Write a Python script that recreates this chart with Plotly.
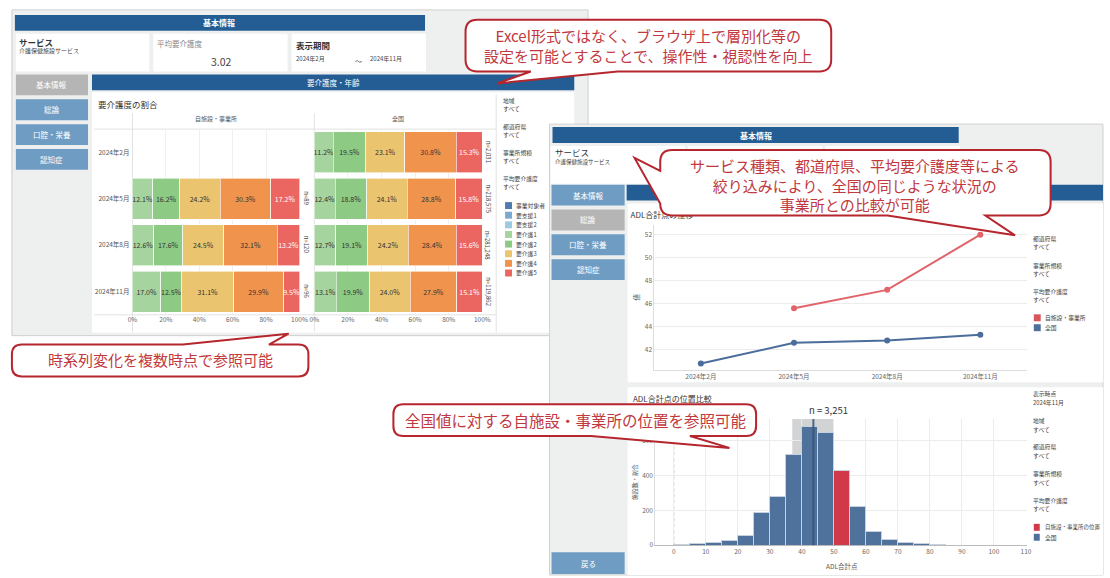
import plotly.graph_objects as go

W, H = 1110, 578
FONT = "Noto Sans CJK JP, Noto Sans, sans-serif"

# ---------------- data ----------------
months = ["2024年2月", "2024年5月", "2024年8月", "2024年11月"]
legend_levels = ["事業対象者", "要支援1", "要支援2", "要介護1", "要介護2", "要介護3", "要介護4", "要介護5"]
legend_colors = ["#4f7cac", "#7aaad2", "#9ecae1", "#a6d49e", "#8dca84", "#ebc46f", "#f0934d", "#ec6661"]
care_levels = ["要介護1", "要介護2", "要介護3", "要介護4", "要介護5"]

own_care1 = [None, 12.1, 12.6, 17.0]
own_care2 = [None, 16.2, 17.6, 12.5]
own_care3 = [None, 24.2, 24.5, 31.1]
own_care4 = [None, 30.3, 32.1, 29.9]
own_care5 = [None, 17.2, 13.2, 9.5]
nat_care1 = [11.2, 12.4, 12.7, 13.1]
nat_care2 = [19.5, 18.8, 19.1, 19.9]
nat_care3 = [23.1, 24.1, 24.2, 24.0]
nat_care4 = [30.8, 28.8, 28.4, 27.9]
nat_care5 = [15.3, 15.8, 15.6, 15.1]
own_n = [None, 89, 120, 96]
nat_n = [2031, 218575, 281248, 119862]
share_ticks = [0, 20, 40, 60, 80, 100]

adl_own = [None, 45.6, 47.2, 52.0]
adl_nat = [40.8, 42.6, 42.8, 43.3]
adl_ticks = [42, 44, 46, 48, 50, 52]

bin_starts = [0, 5, 10, 15, 20, 25, 30, 35, 40, 45, 50, 55, 60, 65, 70, 75, 80]
bin_counts = [6, 10, 15, 27, 55, 187, 282, 524, 686, 650, 429, 221, 80, 30, 15, 8, 2]
bin_width = 5
own_bin_start = 50
adl_q1, adl_median, adl_q3 = 37, 43.6, 50
n_total = 3251
hist_xticks = [0, 10, 20, 30, 40, 50, 60, 70, 80, 90, 100, 110]
hist_yticks = [0, 200, 400, 600]

# ---------------- helpers ----------------
shapes, annotations = [], []


def px(x):
    return x / W


def py(y):
    return 1 - y / H


def R(x0, y0, x1, y1, fill, line=None, layer="below"):
    shapes.append(dict(type="rect", xref="paper", yref="paper", x0=px(x0), x1=px(x1),
                       y0=py(y1), y1=py(y0), fillcolor=fill, layer=layer,
                       line=dict(width=1 if line else 0, color=line or "rgba(0,0,0,0)")))


def L(x0, y0, x1, y1, color="#e2e2e2", width=1, layer="below"):
    shapes.append(dict(type="line", xref="paper", yref="paper", x0=px(x0), x1=px(x1),
                       y0=py(y0), y1=py(y1), line=dict(color=color, width=width), layer=layer))


def T(x, y, text, size=7, color="#555", xa="left", ya="middle", bold=False, angle=0):
    if bold:
        text = "<b>" + text + "</b>"
    annotations.append(dict(x=px(x), y=py(y), xref="paper", yref="paper", text=text,
                            showarrow=False, xanchor=xa, yanchor=ya, textangle=angle,
                            font=dict(size=size, color=color, family=FONT)))


def P(x, y):
    return f"{x / W:.5f},{1 - y / H:.5f}"


def callout(x0, y0, x1, y1, r, tails):
    s = f"M{P(x0 + r, y0)}"
    if "top" in tails:
        a, b, tx, ty = tails["top"]
        s += f" L{P(a, y0)} L{P(tx, ty)} L{P(b, y0)}"
    s += f" L{P(x1 - r, y0)} Q{P(x1, y0)} {P(x1, y0 + r)}"
    s += f" L{P(x1, y1 - r)} Q{P(x1, y1)} {P(x1 - r, y1)}"
    if "bottom" in tails:
        a, b, tx, ty = tails["bottom"]
        s += f" L{P(a, y1)} L{P(tx, ty)} L{P(b, y1)}"
    s += f" L{P(x0 + r, y1)} Q{P(x0, y1)} {P(x0, y1 - r)}"
    if "left" in tails:
        a, b, tx, ty = tails["left"]
        s += f" L{P(x0, a)} L{P(tx, ty)} L{P(x0, b)}"
    s += f" L{P(x0, y0 + r)} Q{P(x0, y0)} {P(x0 + r, y0)} Z"
    shapes.append(dict(type="path", xref="paper", yref="paper", path=s, fillcolor="white",
                       line=dict(color="#b5262e", width=2), layer="above"))


DARK = "#235d93"
NAV = "#6f9cc3"
SEL = "#b5b5b5"
BG = "#eeefef"
FS = 5.8  # filter text size

# ---------------- dashboard 1 ----------------
R(7, 10, 590, 338, BG, "#cfcfcf")
R(10, 15, 425, 31, DARK)
T(217, 23, "基本情報", 8, "white", "center", bold=True)
R(11, 34, 146, 72, "white")
R(150, 34, 286, 72, "white")
R(290, 34, 426, 72, "white")
T(12, 42, "サービス", 8.5, "#333", bold=True)
T(12, 51, "介護保健施設サービス", 6, "#444")
T(152, 44, "平均要介護度", 7.5, "#888")
T(219, 62, "3.02", 10.5, "#444", "center")
T(292, 45, "表示期間", 8.5, "#333", bold=True)
T(292, 59, "2024年2月", 6, "#444")
T(358, 61, "～", 7, "#444", "center")
T(367, 59, "2024年11月", 6, "#444")

for i, (lab, fill) in enumerate([("基本情報", SEL), ("総論", NAV), ("口腔・栄養", NAV), ("認知症", NAV)]):
    y0 = 75 + i * 25
    R(11, y0, 84, y0 + 21, fill)
    T(47.5, y0 + 10.5, lab, 7.5, "white", "center")

R(88, 75, 576, 91, DARK)
T(332, 83, "要介護度・年齢", 7.5, "white", "center")
R(88, 93, 576, 335, "white")
T(92, 105, "要介護度の割合", 8.5, "#333")
T(214, 119, "自施設・事業所", 6, "#555", "center")
T(398, 119, "全国", 6, "#555", "center")
L(90, 130, 497, 130)
L(90, 317, 497, 317)
L(129, 114, 129, 334)
L(313, 114, 313, 334)
L(497, 95, 497, 335)

fy = [(101, 109, "地域"), (127, 135, "都道府県"), (154, 162, "事業所規模"), (180, 188, "平均要介護度")]
for a, b, lab in fy:
    T(502, a, lab, FS, "#444")
    T(502, b, "すべて", FS, "#444")
for i, (lab, col) in enumerate(zip(legend_levels, legend_colors)):
    yc = 207 + i * 9.7
    R(506, yc - 3.5, 513, yc + 3.5, col)
    T(515, yc, lab, FS, "#444")

# ---------------- dashboard 2 ----------------
R(551, 125, 1111, 579, BG, "#cfcfcf")
R(554, 128, 965, 144, DARK)
T(760, 136, "基本情報", 8, "white", "center", bold=True)
R(552, 147, 688, 185, "white")
R(691, 147, 827, 185, "white")
R(830, 147, 966, 185, "white")
T(554, 153, "サービス", 8.5, "#333")
T(554, 163, "介護保健施設サービス", 5.5, "#444")

for i, (lab, fill) in enumerate([("基本情報", NAV), ("総論", SEL), ("口腔・栄養", NAV), ("認知症", NAV)]):
    y0 = 186 + i * 25
    R(553, y0, 627, y0 + 21, fill)
    T(590, y0 + 10.5, lab, 7.5, "white", "center")
R(553, 556, 627, 578, NAV)
T(590, 567, "戻る", 7.5, "white", "center")

R(629, 186, 1111, 202, DARK)
R(630, 205, 1111, 385, "white")
R(630, 390, 1111, 579, "white")

T(638, 299, "値", 6.5, "#555", "center", angle=-90)
for a, b, lab in [(240, 248, "都道府県"), (267, 275, "事業所規模"), (294, 302, "平均要介護度")]:
    T(1038, a, lab, FS, "#444")
    T(1038, b, "すべて", FS, "#444")
R(1041, 316.5, 1048, 323.5, "#d9565c")
T(1050, 320, "自施設・事業所", FS, "#444")
R(1041, 326.5, 1048, 333.5, "#4e6f9b")
T(1050, 330, "全国", FS, "#444")

T(633, 401, "ADL合計点の位置比較", 8, "#333")
T(833, 413, f"n = {n_total:,}", 9.5, "#333", "center")
T(847, 570, "ADL合計点", 6.5, "#555", "center")
T(637, 486, "施設数・割合", 6, "#555", "center", angle=-90)
for a, b, lab, val in [(396, 405, "表示時点", "2024年11月"), (423, 432, "地域", "すべて"),
                       (450, 459, "都道府県", "すべて"), (477, 486, "事業所規模", "すべて"),
                       (504, 512, "平均要介護度", "すべて")]:
    T(1038, a, lab, FS, "#444")
    T(1038, b, val, FS, "#444")
R(1041, 527.5, 1047, 534.5, "#d13848")
T(1050, 531, "自施設・事業所の位置", 5.5, "#444")
R(1041, 537.5, 1047, 544.5, "#4e729c")
T(1050, 541, "全国", FS, "#444")

# ---------------- traces ----------------
fig = go.Figure()
own_series = [own_care1, own_care2, own_care3, own_care4, own_care5]
nat_series = [nat_care1, nat_care2, nat_care3, nat_care4, nat_care5]
bar_colors = legend_colors[3:]
txt_colors = ["#333", "#333", "#333", "#333", "#ffffff"]
for i, lvl in enumerate(care_levels):
    for vals, xa in ((own_series[i], "x"), (nat_series[i], "x2")):
        fig.add_trace(go.Bar(
            y=months, x=vals, orientation="h", xaxis=xa, yaxis="y", name=lvl,
            marker=dict(color=bar_colors[i], line=dict(width=0.6, color="white")),
            text=[("" if v is None else f"{v:.1f}%") for v in vals],
            textposition="inside", insidetextanchor="middle", textangle=0,
            constraintext="none",
            textfont=dict(size=7, color=txt_colors[i], family=FONT),
            hoverinfo="skip", showlegend=False))

for m, n in zip(months, own_n):
    if n is not None:
        annotations.append(dict(x=px(305), y=m, xref="paper", yref="y", text=f"n={n:,}",
                                showarrow=False, textangle=90, xanchor="center", yanchor="middle",
                                font=dict(size=6, color="#444", family=FONT)))
for m, n in zip(months, nat_n):
    annotations.append(dict(x=px(489), y=m, xref="paper", yref="y", text=f"n={n:,}",
                            showarrow=False, textangle=90, xanchor="center", yanchor="middle",
                            font=dict(size=6, color="#444", family=FONT)))

fig.add_trace(go.Scatter(x=months, y=adl_own, xaxis="x3", yaxis="y3", mode="lines+markers",
                         line=dict(color="#e0646a", width=2), marker=dict(size=6, color="#e0646a"),
                         hoverinfo="skip", showlegend=False))
fig.add_trace(go.Scatter(x=months, y=adl_nat, xaxis="x3", yaxis="y3", mode="lines+markers",
                         line=dict(color="#4a6d9c", width=2), marker=dict(size=6, color="#4a6d9c"),
                         hoverinfo="skip", showlegend=False))

fig.add_trace(go.Bar(x=bin_starts, y=bin_counts, width=bin_width, offset=0, xaxis="x4", yaxis="y4",
                     marker=dict(color=["#d13848" if b == own_bin_start else "#4e729c" for b in bin_starts],
                                 line=dict(color="#c7d1de", width=1)),
                     hoverinfo="skip", showlegend=False))

# titles that the callout must cover -> drawn as trace text on a full-page overlay
fig.add_trace(go.Scatter(x=[633, 1038], y=[217, 214], text=["ADL合計点の推移", "地域"], mode="text",
                         textposition="middle right", xaxis="x5", yaxis="y5",
                         textfont=dict(size=[8, FS], color=["#333", "#444"], family=FONT),
                         hoverinfo="skip", showlegend=False))

# histogram decorations
shapes.append(dict(type="rect", xref="x4", yref="paper", x0=adl_q1, x1=adl_q3, y0=py(549), y1=py(422),
                   fillcolor="#d2d3d5", line=dict(width=0), layer="between"))
shapes.append(dict(type="line", xref="x4", yref="paper", x0=0, x1=0, y0=py(549), y1=py(422),
                   line=dict(color="#bbbbbb", width=1, dash="dot"), layer="between"))
shapes.append(dict(type="line", xref="x4", yref="paper", x0=adl_median, x1=adl_median, y0=py(549), y1=py(422),
                   line=dict(color="#3a5277", width=2), opacity=0.85, layer="above"))

# ---------------- callouts ----------------
RED = "#c1393e"
callout(466, 20, 836, 72, 12, {"bottom": (620, 532, 498, 84)})
T(651, 45.5, "Excel形式ではなく、ブラウザ上で層別化等の<br>設定を可能とすることで、操作性・視認性を向上", 15, RED, "center")

callout(663, 151, 1058, 217, 12, {"bottom": (992, 893, 1022, 237), "left": (205, 172, 637, 159)})
T(860, 186, "サービス種類、都道府県、平均要介護度等による<br>絞り込みにより、全国の同じような状況の<br>事業所との比較が可能", 15, RED, "center")

callout(7, 347, 307, 379, 10, {"top": (180, 267, 287, 336)})
T(157, 362, "時系列変化を複数時点で参照可能", 15, RED, "center")

callout(393, 407, 760, 439, 10, {"bottom": (693, 593, 733, 451)})
T(577, 423, "全国値に対する自施設・事業所の位置を参照可能", 15.5, RED, "center")

# ---------------- layout ----------------
tick7 = dict(size=6.5, color="#666", family=FONT)
pct_text = [f"{v}%" for v in share_ticks]
fig.update_layout(
    width=W, height=H, autosize=False, margin=dict(l=0, r=0, t=0, b=0),
    paper_bgcolor="white", plot_bgcolor="rgba(0,0,0,0)",
    barmode="stack", bargap=0.12, showlegend=False,
    font=dict(family=FONT),
    shapes=shapes, annotations=annotations,
    xaxis=dict(domain=[px(129), px(298)], range=[0, 100], tickvals=share_ticks, ticktext=pct_text,
               showgrid=True, gridcolor="#efefef", zeroline=False, tickfont=tick7, anchor="y",
               fixedrange=True),
    xaxis2=dict(domain=[px(313), px(483)], range=[0, 100], tickvals=share_ticks, ticktext=pct_text,
                showgrid=True, gridcolor="#efefef", zeroline=False, tickfont=tick7, anchor="y",
                fixedrange=True),
    yaxis=dict(domain=[py(317), py(130)], categoryorder="array", categoryarray=months,
               autorange="reversed", tickfont=dict(size=6.5, color="#555", family=FONT),
               anchor="x", showgrid=False, zeroline=False, ticklabelstandoff=2),
    xaxis3=dict(domain=[px(657), px(1034)], type="category", range=[-0.5, 3.5],
                categoryorder="array", categoryarray=months, showgrid=False, tickfont=tick7,
                showline=True, linecolor="#dddddd", anchor="y3"),
    yaxis3=dict(domain=[py(373), py(227)], range=[40.2, 52.8], tickvals=adl_ticks,
                gridcolor="#ececec", zeroline=False, showline=True, linecolor="#dddddd",
                tickfont=tick7, anchor="x3"),
    xaxis4=dict(domain=[px(658), px(1034)], range=[-5.8, 110.3], tickvals=hist_xticks,
                gridcolor="#ececec", zeroline=False, showline=True, linecolor="#bbbbbb",
                tickfont=tick7, anchor="y4"),
    yaxis4=dict(domain=[py(549), py(422)], range=[0, 726], tickvals=hist_yticks,
                gridcolor="#ececec", zeroline=False, showline=True, linecolor="#dddddd",
                tickfont=tick7, anchor="x4"),
    xaxis5=dict(domain=[0, 1], range=[0, W], visible=False, anchor="y5", fixedrange=True),
    yaxis5=dict(domain=[0, 1], range=[H, 0], visible=False, anchor="x5", fixedrange=True),
)

fig.write_html("out.html", config={"displayModeBar": False},
               post_script="document.body.style.margin='0px';document.body.style.overflow='hidden';")
